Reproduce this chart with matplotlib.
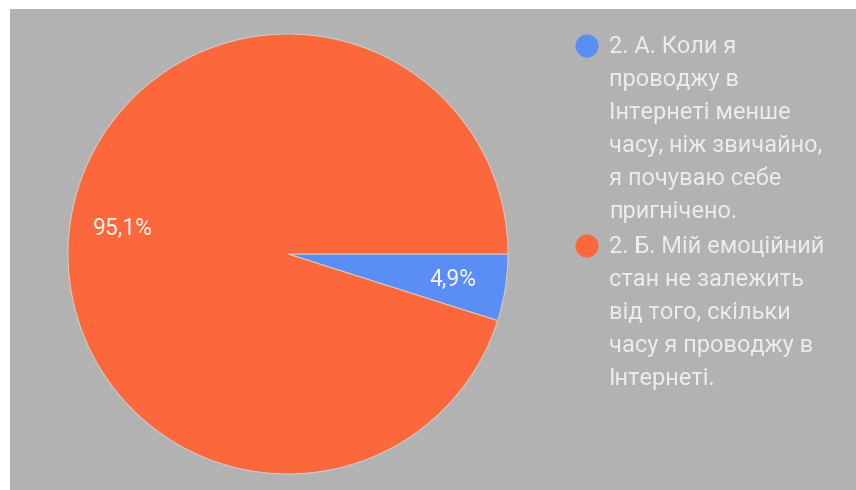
import matplotlib.pyplot as plt
from matplotlib.patches import Circle, Rectangle

# відповіді на питання 2
labels = [
    "2. А. Коли я\nпроводжу в\nІнтернеті менше\nчасу, ніж звичайно,\nя почуваю себе\nпригнічено.",
    "2. Б. Мій емоційний\nстан не залежить\nвід того, скільки\nчасу я проводжу в\nІнтернеті.",
]
shares = [4.9, 95.1]
colors = ['#5b8ef4', '#fd673c']

W, H = 856, 490
fig = plt.figure(figsize=(W / 100, H / 100), dpi=100)
fig.patch.set_facecolor('white')

# сіре тло
fig.patches.append(Rectangle((10 / W, 0), 1 - 10 / W, (H - 9) / H,
                             transform=fig.transFigure, facecolor='#b2b2b2',
                             edgecolor='none', zorder=-5))

# кругова діаграма
cx, cy, r = 288, 236, 220
ax = fig.add_axes([(cx - r) / W, (cy - r) / H, 2 * r / W, 2 * r / H])
ax.set_zorder(2)
ax.patch.set_visible(False)
wedges, _, autotexts = ax.pie(
    shares, colors=colors, startangle=0, counterclock=False, radius=1,
    autopct=lambda p: f"{p:.1f}%".replace('.', ','), pctdistance=0.76,
    wedgeprops=dict(edgecolor='#d0c8c4', linewidth=0.8),
    textprops=dict(color='#f6f2f0', fontsize=16.5, family='Roboto'),
)
ax.set_xlim(-1, 1)
ax.set_ylim(-1, 1)
ax.set_aspect('auto')
ax.axis('off')

# легенда
text_x = 609
line_h = 33
entry_tops = [53, 253]
for lab, col, base in zip(labels, colors, entry_tops):
    fig.patches.append(Circle((587, H - (base - 7)), 11.5, transform=None,
                              facecolor=col, edgecolor='none', zorder=1))
    for i, line in enumerate(lab.split('\n')):
        fig.text(text_x / W, (H - base - i * line_h) / H, line,
                 fontsize=17, family='Roboto', color='#ececec',
                 va='baseline', ha='left', zorder=3)

fig.savefig('out.png', dpi=100)
